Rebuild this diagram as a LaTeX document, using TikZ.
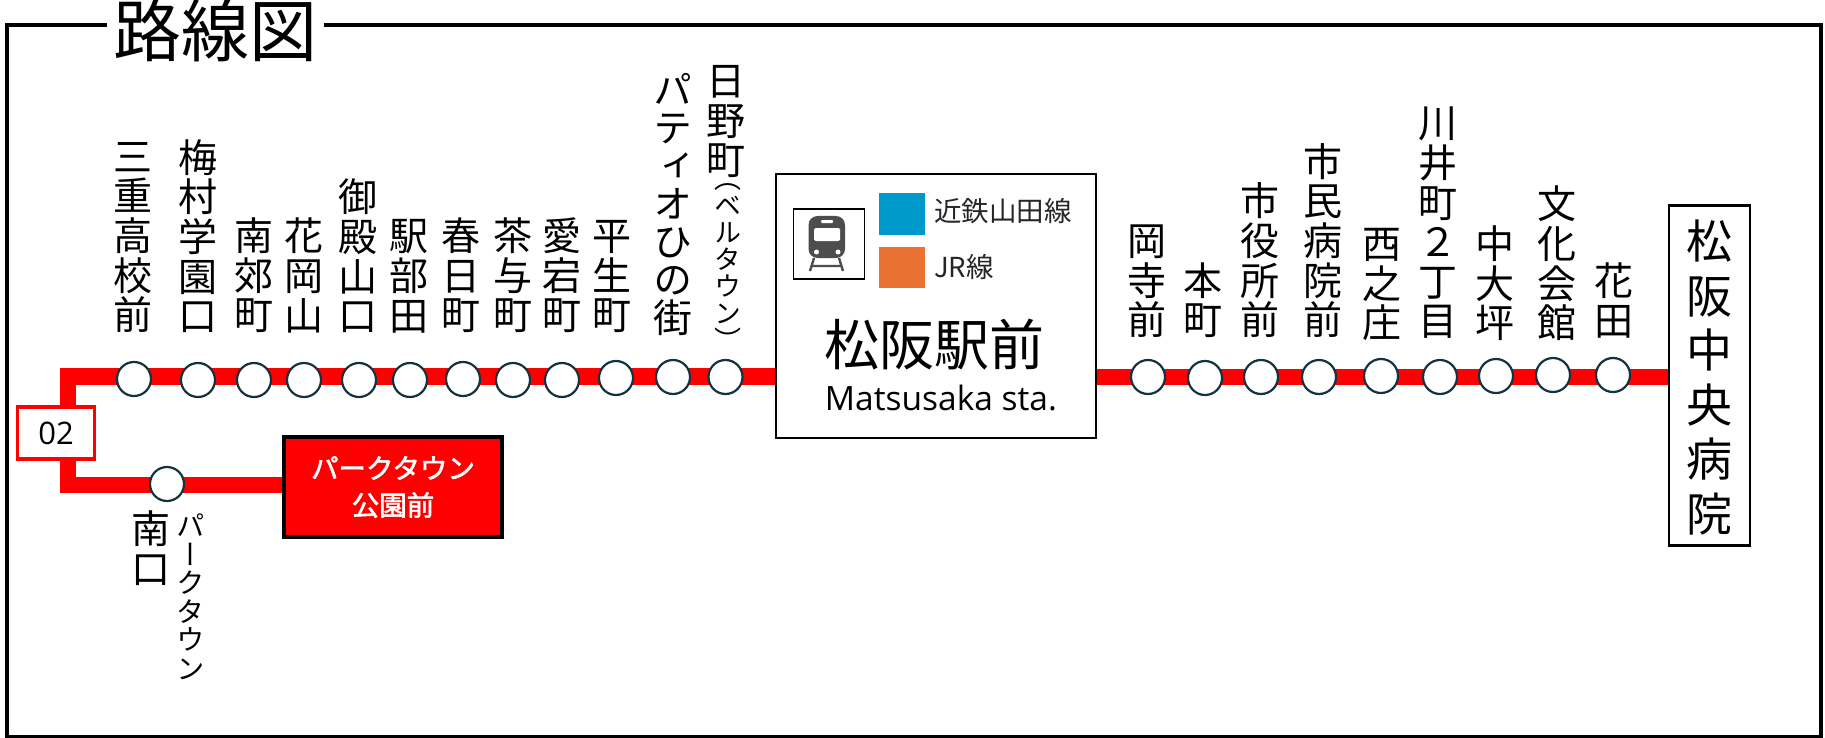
\documentclass[tikz,border=0pt]{standalone}
\usepackage{fontspec}
\usetikzlibrary{backgrounds}
\setmainfont{Open Sans}
\newfontfamily\jp{Noto Sans CJK JP}
\newfontfamily\jpb[FakeBold=2]{Noto Sans CJK JP}
\newfontfamily\jpv[RawFeature={+vert}]{Noto Sans CJK JP}
\definecolor{linered}{HTML}{FF0000}
\definecolor{ringcol}{HTML}{14323F}
\definecolor{kintetsu}{HTML}{0099CC}
\definecolor{jrline}{HTML}{E97132}
\definecolor{icongray}{HTML}{4D4D4D}
\tikzset{
  lab/.style={anchor=south,inner sep=0pt,align=center,font=\jpv\fontsize{39}{39.6}\selectfont},
  slab/.style={anchor=south,inner sep=0pt,align=center,font=\jpv\fontsize{27}{27}\selectfont},
  stn/.style={circle,draw=ringcol,line width=2.2pt,fill=white,minimum size=34pt,inner sep=0pt},
  redline/.style={draw=linered,line width=16.5pt},
  boxed/.style={draw=black,line width=2.4pt,fill=white,inner sep=0pt},
}
\begin{document}
\begin{tikzpicture}[x=1pt,y=-1pt]
\useasboundingbox (0,0) rectangle (1825,738);
\draw[black,line width=3.2pt] (7,25) rectangle (1821,737);
\node[fill=white,inner sep=0pt,minimum width=217pt,minimum height=62pt,font=\jp\fontsize{68}{68}\selectfont] (title) at (215,31) {路線図};

% boxes
\node[boxed,minimum width=320pt,minimum height=264pt] (ekimae) at (936,306) {};
\node[boxed,minimum width=81pt,minimum height=340pt] (hosp) at (1709.5,375.5) {};
\node[inner sep=0pt,align=center,font=\jp\fontsize{46}{54.5}\selectfont] (hosptext) at (1709.5,377.5) {松\\阪\\中\\央\\病\\院};
\node[draw=black,line width=3.6pt,fill=linered,minimum width=218pt,minimum height=100pt,inner sep=0pt,text=white,align=center,font=\jpb\fontsize{27.5}{37}\selectfont] (park) at (393,487) {パークタウン\\公園前};
\node[draw=linered,line width=3.4pt,fill=white,minimum width=77pt,minimum height=52pt,inner sep=0pt,font=\fontsize{31}{31}\selectfont] (num) at (56,433) {02};

% line
\coordinate (topL) at (68,376.5);
\coordinate (botL) at (68,485);
\begin{scope}[on background layer]
\fill[white] (0,0) rectangle (1825,738);
\draw[redline,line cap=butt,line join=miter] (ekimae.west |- topL) -- (topL) -- (botL) -- (park.west |- botL);
\draw[redline] (ekimae.east |- 0,377) -- (hosp.west |- 0,377);
\end{scope}

% stations
\foreach \n/\x/\y in {a/134/379,b/198/380,c/254/380,d/304/380,e/359/380,f/410/380,g/463/379,h/513/380,i/562/380,j/616/378,k/673/377,l/725.5/377,m/1148/377,n/1205/378,o/1261/377,p/1319/377,q/1381/376,r/1440/377,s/1496/376,t/1553/375,u/1613/375,v/167/484}
  \node[stn] (s\n) at (\x,\y) {};

% labels
\node[lab] (la) at (133,333) {三\\重\\高\\校\\前};
\node[lab] (lb) at (198,333) {梅\\村\\学\\園\\口};
\node[lab] (lc) at (254,333) {南\\郊\\町};
\node[lab] (ld) at (304,333) {花\\岡\\山};
\node[lab] (le) at (358,333) {御\\殿\\山\\口};
\node[lab] (lf) at (409,333) {駅\\部\\田};
\node[lab] (lg) at (461,333) {春\\日\\町};
\node[lab] (lh) at (513,333) {茶\\与\\町};
\node[lab] (li) at (562,333) {愛\\宕\\町};
\node[lab] (lj) at (612,333) {平\\生\\町};
\node[lab,font=\jpv\fontsize{39}{38}\selectfont] (lk) at (673,336) {パ\\テ\\ィ\\オ\\ひ\\の\\街};
\node[lab] (ll) at (725.5,178) {日\\野\\町};
\node[slab] (ll2) at (728,351) {（\\ベ\\ル\\タ\\ウ\\ン\\）};
\node[lab] (lm) at (1147,338) {岡\\寺\\前};
\node[lab] (ln) at (1203,338) {本\\町};
\node[lab] (lo) at (1260,338) {市\\役\\所\\前};
\node[lab] (lp) at (1323,338) {市\\民\\病\\院\\前};
\node[lab] (lq) at (1382,341) {西\\之\\庄};
\node[lab] (lr) at (1438,339) {川\\井\\町\\２\\丁\\目};
\node[lab] (ls) at (1495,341) {中\\大\\坪};
\node[lab] (lt) at (1557,341) {文\\化\\会\\館};
\node[lab] (lu) at (1614,338) {花\\田};
\node[lab,anchor=north] (lv) at (151,511) {南\\口};
\node[lab,anchor=north,font=\jpv\fontsize{28.5}{28.5}\selectfont] (lv2) at (191,514) {パ\\ー\\ク\\タ\\ウ\\ン};

% station box content
\node[draw=black,line width=1.4pt,minimum width=71pt,minimum height=70pt,inner sep=0pt] (icon) at (829,244) {};
\begin{scope}[icongray]
\fill[rounded corners=9pt] (808.5,216) rectangle (845,258);
\fill[white,rounded corners=1.5pt] (814,228) rectangle (840,241);
\fill[white,rounded corners=1pt] (821,220) rectangle (833,223);
\fill[white] (816.5,252) circle (2.5);
\fill[white] (838,252) circle (2.5);
\draw[line width=2.4pt] (814,258) -- (810,271) (839,258) -- (843,271) (812,266) -- (841,266);
\end{scope}
\node[fill=kintetsu,minimum width=46pt,minimum height=42pt,inner sep=0pt] (blue) at (902,214) {};
\node[fill=jrline,minimum width=46pt,minimum height=41pt,inner sep=0pt] (orange) at (902,267.5) {};
\node[anchor=west,inner sep=0pt,font=\jp\fontsize{27.5}{27.5}\selectfont,text=black!85] (t1) at (934,211) {近鉄山田線};
\node[anchor=west,inner sep=0pt,font=\jp\fontsize{27.5}{27.5}\selectfont,text=black!85] (t2) at (934,267) {JR線};
\node[inner sep=0pt,font=\jp\fontsize{55}{55}\selectfont] (name) at (934,345) {松阪駅前};
\node[inner sep=0pt,font=\fontsize{33.5}{33.5}\selectfont] (roman) at (941,398) {Matsusaka sta.};
\end{tikzpicture}
\end{document}
